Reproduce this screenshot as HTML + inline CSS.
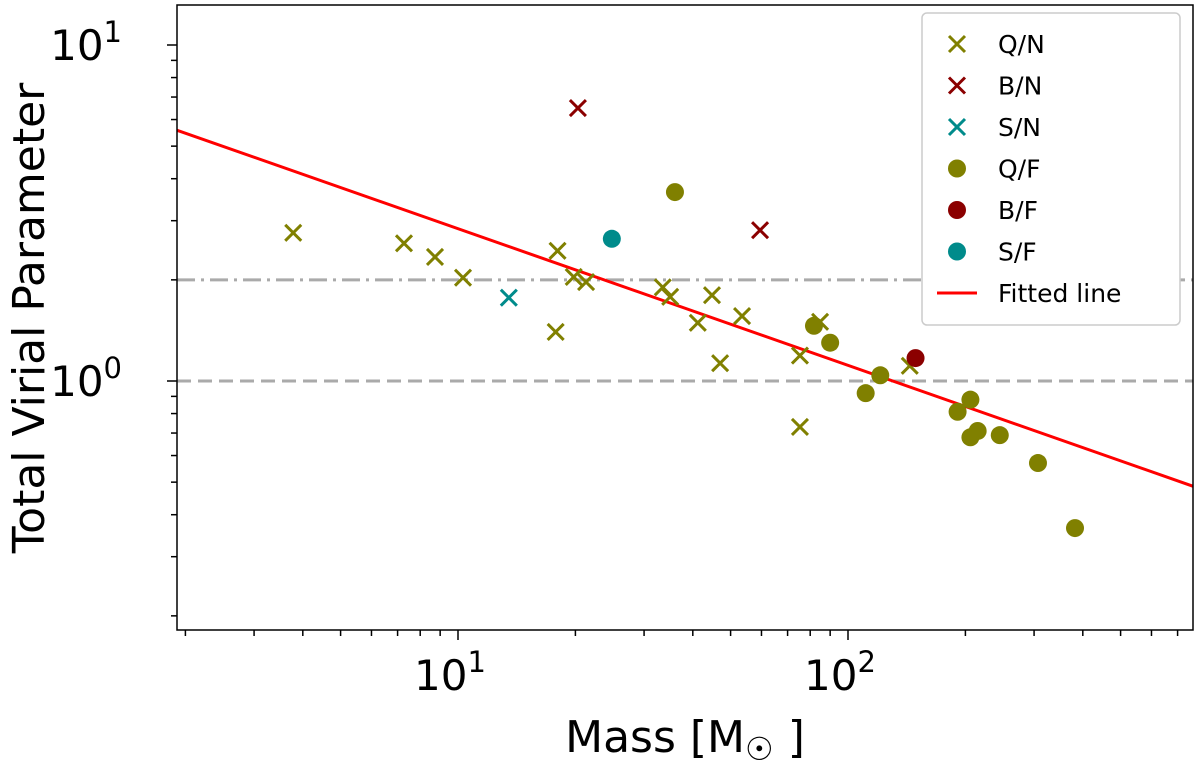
<!DOCTYPE html>
<html><head><meta charset="utf-8"><style>
body{margin:0;background:#fff;}
svg{display:block;font-family:"DejaVu Sans","Liberation Sans",sans-serif;}
</style></head><body>
<svg id="chart" width="1200" height="763" viewBox="0 0 1200 763"></svg>
<script>
const qnMass=[3.78,7.27,8.73,10.3,18.0,17.8,19.8,21.3,33.5,35.0,41.2,44.8,47.0,53.5,75.3,75.3,84.8,144];
const qnAlpha=[2.76,2.57,2.34,2.03,2.44,1.40,2.04,1.97,1.90,1.78,1.49,1.80,1.13,1.56,1.19,0.73,1.50,1.11];
const bnMass=[20.3,59.5];
const bnAlpha=[6.49,2.81];
const snMass=[13.5];
const snAlpha=[1.77];
const qfMass=[36.0,81.8,90.0,121,111,191,206,206,215,245,307,382];
const qfAlpha=[3.65,1.46,1.30,1.04,0.92,0.81,0.88,0.68,0.71,0.69,0.57,0.365];
const bfMass=[149];
const bfAlpha=[1.17];
const sfMass=[24.8];
const sfAlpha=[2.65];
const fitStart=[1.90,5.58];
const fitSlope=-0.4067;
const xTickVals=[10,100];
const xTickLabels=["1","2"];
const yTickVals=[1,10];
const yTickLabels=["0","1"];

const L=177,R=1193,T=5,B=630;
const X=m=>458+390*(Math.log10(m)-1);
const Y=a=>381-336*Math.log10(a);
const svg=document.getElementById('chart');
const NS='http://www.w3.org/2000/svg';
function mk(tag,at,parent){const e=document.createElementNS(NS,tag);for(const k in at)e.setAttribute(k,at[k]);(parent||svg).appendChild(e);return e;}

const clip=mk('clipPath',{id:'c'});mk('rect',{x:L,y:T,width:R-L,height:B-T},clip);
const plot=mk('g',{'clip-path':'url(#c)'});



let l1=mk('line',{x1:L,x2:R,y1:Y(2),y2:Y(2),stroke:'#aaa','stroke-width':3,'stroke-dasharray':'18 6 3 6'},plot);


let l2=mk('line',{x1:L,x2:R,y1:Y(1),y2:Y(1),stroke:'#aaa','stroke-width':3,'stroke-dasharray':'14 7'},plot);



const mEnd=800;
const aEnd=fitStart[1]*Math.pow(mEnd/fitStart[0],fitSlope);
let fit=mk('line',{x1:X(fitStart[0]),y1:Y(fitStart[1]),x2:X(mEnd),y2:Y(aEnd),stroke:'#ff0000','stroke-width':3},plot);



function cross(g,x,y,c){const s=8;mk('path',{d:`M${x-s} ${y-s}L${x+s} ${y+s}M${x-s} ${y+s}L${x+s} ${y-s}`,stroke:c,'stroke-width':3,fill:'none'},g);}
function dot(g,x,y,c){mk('circle',{cx:x,cy:y,r:9,fill:c},g);}
function series(name,ms,as,c,kind){const g=mk('g',{},plot);


ms.forEach((m,i)=>kind==='x'?cross(g,X(m),Y(as[i]),c):dot(g,X(m),Y(as[i]),c));}
series('series-q-n',qnMass,qnAlpha,'#808000','x');
series('series-b-n',bnMass,bnAlpha,'#8b0000','x');
series('series-s-n',snMass,snAlpha,'#008b8b','x');
series('series-q-f',qfMass,qfAlpha,'#808000','o');
series('series-b-f',bfMass,bfAlpha,'#8b0000','o');
series('series-s-f',sfMass,sfAlpha,'#008b8b','o');

let frame=mk('rect',{x:L,y:T,width:R-L,height:B-T,fill:'none',stroke:'#000','stroke-width':1.5});



for(let d=0;d<=2;d++)for(let k=1;k<10;k++){const m=k*Math.pow(10,d);const x=X(m);if(x<L||x>R)continue;
 mk('line',{x1:x,x2:x,y1:B,y2:B+(k===1?10:6),stroke:'#000','stroke-width':1.5});}
for(let d=-1;d<=1;d++)for(let k=1;k<10;k++){const a=k*Math.pow(10,d);const y=Y(a);if(y<T||y>B)continue;
 mk('line',{x1:L,x2:L-(k===1?10:6),y1:y,y2:y,stroke:'#000','stroke-width':1.5});}
xTickVals.forEach((v,i)=>{const t=mk('text',{x:X(v)-8,y:690,'font-size':42,'text-anchor':'middle'});


t.innerHTML='10<tspan dy="-18" font-size="29">'+xTickLabels[i]+'</tspan>';});
yTickVals.forEach((v,i)=>{const t=mk('text',{x:122,y:Y(v)+15,'font-size':42,'text-anchor':'end'});


t.innerHTML='10<tspan dy="-18" font-size="29">'+yTickLabels[i]+'</tspan>';});

let xt=mk('text',{x:685,y:752,'font-size':44,'text-anchor':'middle'});


xt.innerHTML='Mass [M<tspan dy="8" font-size="32">☉</tspan><tspan dy="-8"> ]</tspan>';
let yt=mk('text',{x:0,y:0,'font-size':44,'text-anchor':'middle',transform:'translate(44,318) rotate(-90)'});


yt.textContent='Total Virial Parameter';

const lg=mk('g',{});


mk('rect',{x:922,y:13,width:258,height:312,rx:5,fill:'#fff',stroke:'#ccc','stroke-width':1.5},lg);
const ents=[['Q/N','#808000','x'],['B/N','#8b0000','x'],['S/N','#008b8b','x'],['Q/F','#808000','o'],['B/F','#8b0000','o'],['S/F','#008b8b','o'],['Fitted line','#ff0000','l']];
ents.forEach((e,i)=>{const y=44+i*41.5;const g=mk('g',{},lg);


if(e[2]==='x')cross(g,957,y,e[1]);else if(e[2]==='o')dot(g,957,y,e[1]);else mk('line',{x1:937,x2:977,y1:y,y2:y,stroke:e[1],'stroke-width':3},g);
const t=mk('text',{x:998,y:y+9,'font-size':25},g);t.textContent=e[0];});
</script>
</body></html>
